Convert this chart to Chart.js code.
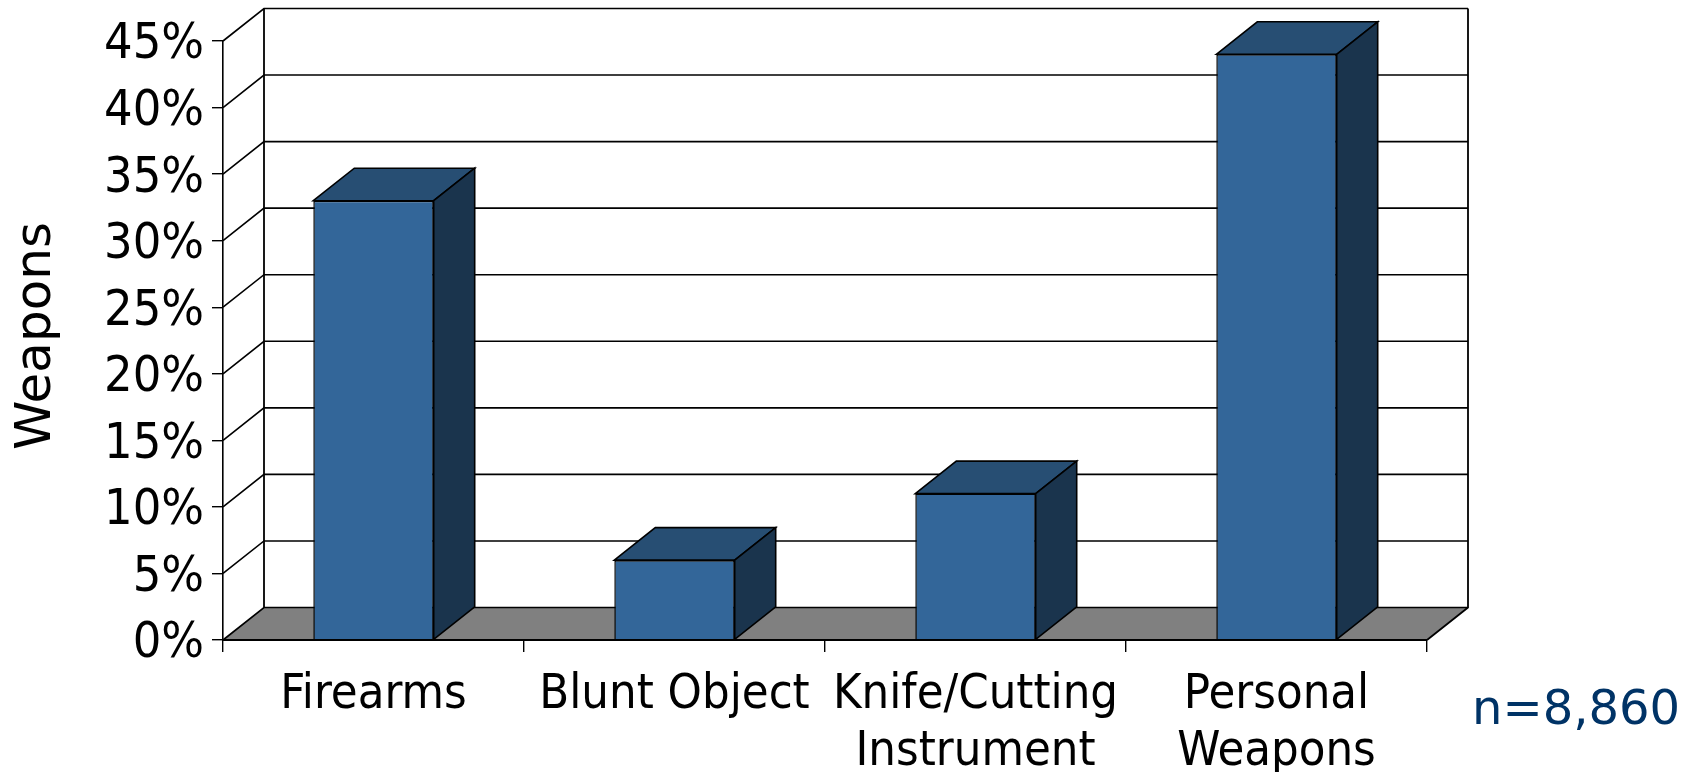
<!DOCTYPE html>
<html><head><meta charset="utf-8">
<style>html,body{margin:0;padding:0;background:#fff}canvas{display:block}</style>
<script src="https://cdn.jsdelivr.net/npm/chart.js@4"></script>
</head><body><div style="width:1696px;height:772px"><canvas id="c" width="1696" height="772"></canvas></div>
<script>
const categories = [["Firearms"], ["Blunt Object"], ["Knife/Cutting", "Instrument"], ["Personal", "Weapons"]];
const seriesValues = [33, 6, 11, 44];
const yTicks = [0, 5, 10, 15, 20, 25, 30, 35, 40, 45];
const yTitle = "Weapons";
const note = "n=8,860";
const FONT = '"DejaVu Sans Condensed","DejaVu Sans"';
const DX = 41, DY = 32.5;

const threeD = {
  id: 'threeD',
  afterUpdate(chart) {
    // tick labels sit slightly below their tick in the reference
    const s = chart.scales.y;
    s.getLabelItems(chart.chartArea).forEach(i => { i.textOffset += 4.5; });
  },
  beforeDatasetsDraw(chart) {
    const {ctx, chartArea: a, scales: {y}} = chart;
    ctx.save();
    ctx.fillStyle = '#808080';
    ctx.beginPath();
    ctx.moveTo(a.left, a.bottom); ctx.lineTo(a.left + DX, a.bottom - DY);
    ctx.lineTo(a.right + DX, a.bottom - DY); ctx.lineTo(a.right, a.bottom);
    ctx.closePath(); ctx.fill();
    ctx.strokeStyle = '#000';
    ctx.lineWidth = 1.6;
    for (const v of yTicks) {
      const p = y.getPixelForValue(v);
      ctx.beginPath();
      ctx.moveTo(a.left, p); ctx.lineTo(a.left + DX, p - DY);
      ctx.lineTo(a.right + DX, p - DY);
      ctx.stroke();
    }
    ctx.lineWidth = 1.8;
    ctx.beginPath();
    ctx.moveTo(a.left + DX, a.top - DY); ctx.lineTo(a.left + DX, a.bottom - DY);
    ctx.moveTo(a.right + DX, a.top - DY); ctx.lineTo(a.right + DX, a.bottom - DY);
    ctx.lineTo(a.right, a.bottom);
    ctx.stroke();
    ctx.restore();
  },
  afterDatasetsDraw(chart) {
    const {ctx, chartArea: a} = chart;
    ctx.save();
    ctx.strokeStyle = '#000';
    ctx.lineWidth = 1.6;
    chart.getDatasetMeta(0).data.forEach(b => {
      const l = b.x - b.width / 2, r = b.x + b.width / 2, t = b.y, bot = b.base;
      ctx.fillStyle = '#274E73';
      ctx.beginPath();
      ctx.moveTo(l, t); ctx.lineTo(l + DX, t - DY); ctx.lineTo(r + DX, t - DY); ctx.lineTo(r, t);
      ctx.closePath(); ctx.fill(); ctx.stroke();
      ctx.fillStyle = '#1A344D';
      ctx.beginPath();
      ctx.moveTo(r, t); ctx.lineTo(r + DX, t - DY); ctx.lineTo(r + DX, bot - DY); ctx.lineTo(r, bot);
      ctx.closePath(); ctx.fill(); ctx.stroke();
    });
    ctx.beginPath();
    ctx.lineWidth = 2;
    ctx.moveTo(a.left, a.bottom); ctx.lineTo(a.right, a.bottom);
    ctx.stroke();
    ctx.restore();
  },
  afterDraw(chart) {
    const {ctx} = chart;
    ctx.save();
    ctx.fillStyle = '#000';
    ctx.font = '50px "DejaVu Sans"';
    ctx.textAlign = 'center';
    ctx.textBaseline = 'alphabetic';
    ctx.translate(50, 336);
    ctx.rotate(-Math.PI / 2);
    ctx.fillText(yTitle, 0, 0);
    ctx.restore();
    ctx.save();
    ctx.fillStyle = '#003366';
    ctx.font = '48px "DejaVu Sans"';
    ctx.textAlign = 'left';
    ctx.textBaseline = 'alphabetic';
    ctx.fillText(note, 1472, 724);
    ctx.restore();
  }
};

new Chart(document.getElementById('c'), {
  type: 'bar',
  data: {
    labels: categories,
    datasets: [{
      data: seriesValues,
      backgroundColor: '#336699',
      borderColor: '#000',
      borderWidth: 1.5,
      barPercentage: 0.4,
      categoryPercentage: 1
    }]
  },
  plugins: [threeD],
  options: {
    responsive: false,
    animation: false,
    layout: {padding: {top: 41, right: 269, left: 0, bottom: 0}},
    plugins: {legend: {display: false}, tooltip: {enabled: false}, title: {display: false}},
    scales: {
      x: {
        type: 'category',
        offset: true,
        afterFit(s) { s.height = 132; },
        grid: {display: true, offset: true, drawOnChartArea: false, drawTicks: true, tickLength: 12, color: '#000', lineWidth: 1.4},
        border: {display: true, color: '#000', width: 2},
        ticks: {color: '#000', font: {family: FONT, size: 48.5, lineHeight: 1.18}, maxRotation: 0, minRotation: 0, autoSkip: false, padding: 15}
      },
      y: {
        type: 'linear',
        min: 0,
        max: 45,
        afterFit(s) { s.width = 223; },
        afterBuildTicks(s) { s.ticks = yTicks.map(v => ({value: v})); },
        grid: {display: true, drawOnChartArea: false, drawTicks: true, tickLength: 11, color: '#000', lineWidth: 1.4},
        border: {display: true, color: '#000', width: 1.6},
        ticks: {color: '#000', font: {family: FONT, size: 50}, padding: 8, callback: v => v + '%'}
      }
    }
  }
});
</script></body></html>
